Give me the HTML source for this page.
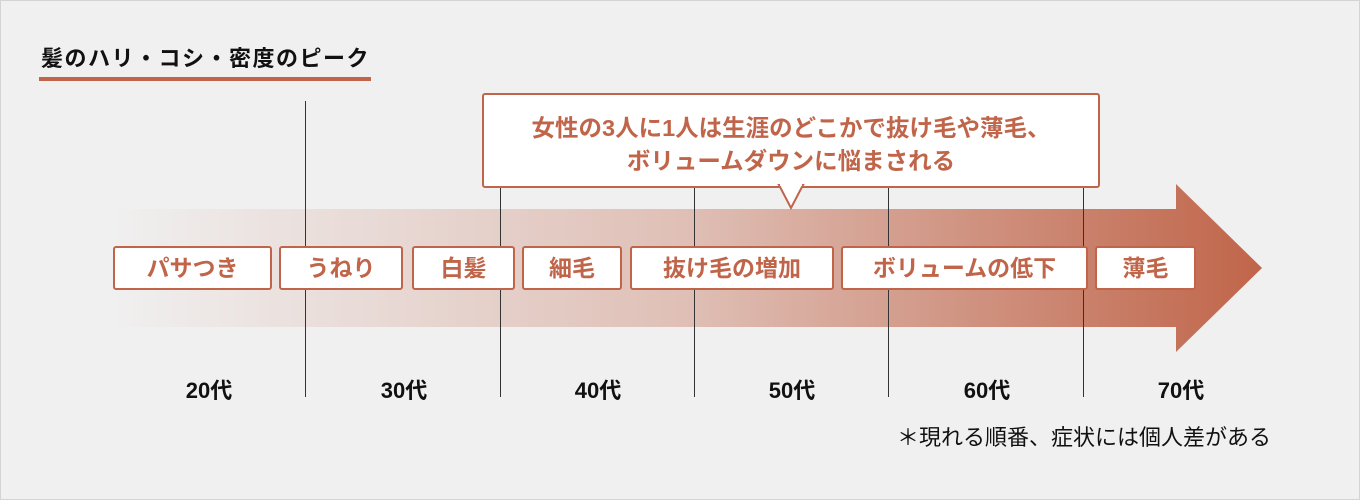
<!DOCTYPE html>
<html><head><meta charset="utf-8"><style>
body{margin:0;width:1360px;height:500px;overflow:hidden;font-family:"Liberation Sans","Noto Sans CJK JP",sans-serif}
.wrap{position:absolute;left:0;top:0;width:1358px;height:498px;background:#f0f0f0;border:1px solid #d4d4d4}
.t{position:absolute;white-space:nowrap}
.box{position:absolute;top:245px;height:40px;background:#fff;border:2px solid #c0654a;border-radius:3px;color:#c0654a;font-weight:bold;font-size:23px;text-align:center;line-height:40px}
.vl{position:absolute;width:1px;background:#333;top:186px;height:210px}
.age{position:absolute;top:372px;font-size:22px;font-weight:bold;color:#111;width:100px;text-align:center}
</style></head><body><div class="wrap">
<div class="t" style="left:40px;top:40px;font-size:22px;font-weight:bold;color:#111;letter-spacing:1.5px">髪のハリ・コシ・密度のピーク</div>
<div style="position:absolute;left:38px;top:76px;width:332px;height:4px;background:#c0654a"></div>
<svg style="position:absolute;left:0;top:0" width="1360" height="500">
<defs><linearGradient id="g" x1="108" x2="1261" y1="0" y2="0" gradientUnits="userSpaceOnUse">
<stop offset="0" stop-color="#c0654a" stop-opacity="0"/><stop offset="0.5" stop-color="#c0654a" stop-opacity="0.35"/><stop offset="1" stop-color="#c0654a" stop-opacity="1"/></linearGradient></defs>
<polygon points="108,208 1175,208 1175,183 1261,267 1175,351 1175,326 108,326" fill="url(#g)"/>
</svg>
<div class="vl" style="left:304px;top:100px;height:296px"></div>
<div class="vl" style="left:499px"></div>
<div class="vl" style="left:693px"></div>
<div class="vl" style="left:887px"></div>
<div class="vl" style="left:1082px"></div>
<div style="position:absolute;left:481px;top:92px;width:614px;height:91px;background:#fff;border:2px solid #c0654a;border-radius:3px"></div>
<svg style="position:absolute;left:770px;top:183px" width="40" height="30"><polygon points="8,1 32,1 20,24" fill="#fff" stroke="#c0654a" stroke-width="2"/><rect x="9" y="-2" width="22" height="4" fill="#fff"/></svg>
<div class="t" style="left:481px;top:111px;width:618px;text-align:center;color:#c0654a;font-weight:bold;font-size:23.5px;line-height:33px">女性の3人に1人は生涯のどこかで抜け毛や薄毛、<br>ボリュームダウンに悩まされる</div>
<div class="box" style="left:112px;width:155px">パサつき</div>
<div class="box" style="left:278px;width:120px">うねり</div>
<div class="box" style="left:411px;width:99px">白髪</div>
<div class="box" style="left:521px;width:96px">細毛</div>
<div class="box" style="left:629px;width:200px">抜け毛の増加</div>
<div class="box" style="left:840px;width:243px">ボリュームの低下</div>
<div class="box" style="left:1094px;width:97px">薄毛</div>
<div class="age" style="left:158px">20代</div>
<div class="age" style="left:353px">30代</div>
<div class="age" style="left:547px">40代</div>
<div class="age" style="left:741px">50代</div>
<div class="age" style="left:936px">60代</div>
<div class="age" style="left:1130px">70代</div>
<div class="t" style="left:896px;top:419px;font-size:22px;color:#111">＊現れる順番、症状には個人差がある</div>
</div></body></html>
